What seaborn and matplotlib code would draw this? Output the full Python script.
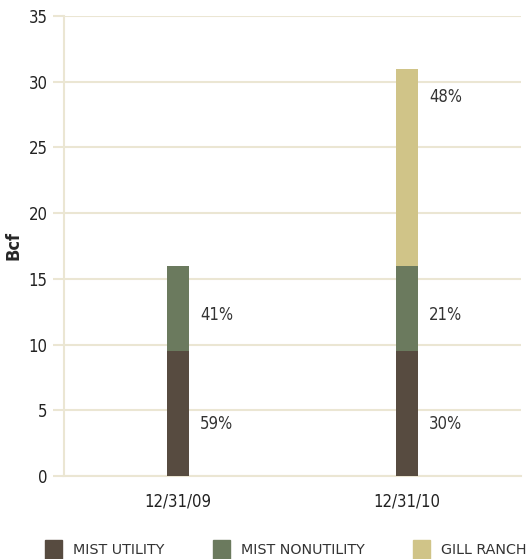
import pandas as pd
import matplotlib.pyplot as plt
import seaborn as sns
from matplotlib.patches import Patch
from matplotlib.font_manager import FontProperties

dates = ['12/31/09', '12/31/10']
mist_utility = [9.5, 9.5]
mist_nonutility = [6.5, 6.5]
gill_ranch = [0, 15]
pct_utility = ['59%', '30%']
pct_nonutility = ['41%', '21%']
pct_gill = ['', '48%']

colors = {'MIST UTILITY': '#574b40', 'MIST NONUTILITY': '#6b7a5e', 'GILL RANCH': '#d0c488'}
grid_c = '#ebe6d3'

sns.set_style('white')
plt.rcParams['font.family'] = ['Liberation Sans Narrow', 'DejaVu Sans']
plt.rcParams['font.stretch'] = 'condensed'

df = pd.DataFrame({'date': dates, 'util': mist_utility, 'nonutil': mist_nonutility, 'gill': gill_ranch})
df['b2'] = df['util'] + df['nonutil']

fig = plt.figure(figsize=(5.31, 5.59), dpi=100)
ax = fig.add_axes([0.1196, 0.1485, 0.8624, 0.8229])

w = 0.096
sns.barplot(data=df, x='date', y='util', color=colors['MIST UTILITY'], width=w, ax=ax,
            saturation=1, linewidth=0, zorder=3)
sns.barplot(data=df, x='date', y='nonutil', bottom=df['util'], color=colors['MIST NONUTILITY'],
            width=w, ax=ax, saturation=1, linewidth=0, zorder=3)
sns.barplot(data=df, x='date', y='gill', bottom=df['b2'], color=colors['GILL RANCH'],
            width=w, ax=ax, saturation=1, linewidth=0, zorder=3)

# percent labels to the right of each segment
for i in range(len(dates)):
    xr = i + w / 2
    ax.annotate(pct_utility[i], (xr, mist_utility[i] * 0.42), xytext=(8, 0),
                textcoords='offset points', va='center', fontsize=12, color='#333333')
    ax.annotate(pct_nonutility[i], (xr, mist_utility[i] + mist_nonutility[i] * 0.42),
                xytext=(8, 0), textcoords='offset points', va='center', fontsize=12, color='#333333')
    if gill_ranch[i]:
        top = mist_utility[i] + mist_nonutility[i] + gill_ranch[i]
        ax.annotate(pct_gill[i], (xr, top - 2.2), xytext=(8, 0),
                    textcoords='offset points', va='center', fontsize=12, color='#333333')

ax.set_xlim(-0.5, 1.5)
ax.set_ylim(0, 35)
ax.set_yticks(range(0, 36, 5))
ax.grid(axis='y', color=grid_c, linewidth=1.5, zorder=0)
ax.set_xlabel('')
ax.set_ylabel('Bcf', fontsize=13, fontweight='bold', labelpad=4)

ax.set_xticks([0, 1])
ax.set_xticks([-0.5, 0.5, 1.5], minor=True)
ax.tick_params(axis='x', which='major', length=0, labelsize=12, pad=12, colors='#222222')
ax.tick_params(axis='x', which='minor', length=11, width=1.5, color=grid_c, direction='out')
ax.tick_params(axis='y', length=8, width=1.5, color=grid_c, labelsize=12, labelcolor='#222222', left=True)

for s in ['top', 'right']:
    ax.spines[s].set_visible(False)
for s in ['left', 'bottom']:
    ax.spines[s].set_color(grid_c)
    ax.spines[s].set_linewidth(1.5)

handles = [Patch(color=c, label=k) for k, c in colors.items()]
leg_font = FontProperties(family='DejaVu Sans', stretch='normal', size=10.3)
fig.legend(handles=handles, loc='upper left', bbox_to_anchor=(0.085, 0.034), ncol=3, frameon=False,
           prop=leg_font, handlelength=1.2, handleheight=1.7, handletextpad=0.75, columnspacing=3.4,
           borderpad=0, borderaxespad=0, labelcolor='#333333')

fig.savefig('out.png', dpi=100)
